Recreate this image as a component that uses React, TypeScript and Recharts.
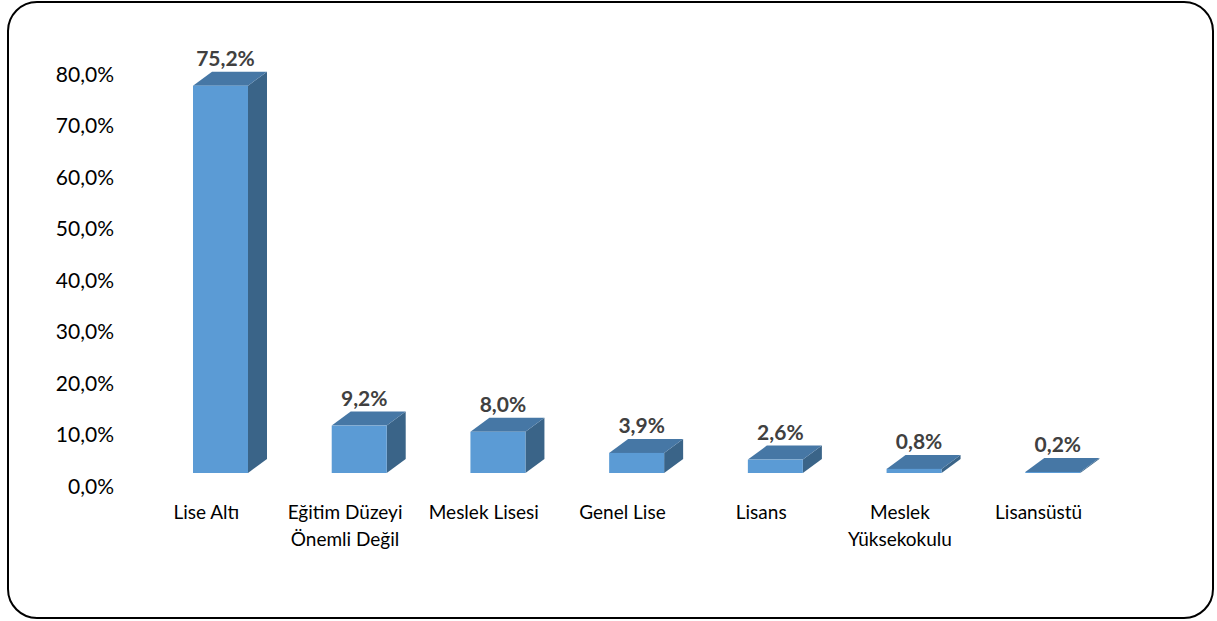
import { Bar, BarChart, LabelList, XAxis, YAxis } from 'recharts'

const CATEGORIES = [
  'Lise Altı',
  'Eğitim Düzeyi\nÖnemli Değil',
  'Meslek Lisesi',
  'Genel Lise',
  'Lisans',
  'Meslek\nYüksekokulu',
  'Lisansüstü',
]
const SHARES = [75.2, 9.2, 8.0, 3.9, 2.6, 0.8, 0.2]
const Y_TICKS = [0, 10, 20, 30, 40, 50, 60, 70, 80]

const DEPTH_X = 19
const DEPTH_Y = 14
const FONT = 'Lato, "Open Sans", sans-serif'

const data = CATEGORIES.map((name, i) => ({ name, value: SHARES[i] }))

const pct = (v: number) => v.toFixed(1).replace('.', ',') + '%'

function Box3D(props: any) {
  const { x, y, width, height } = props
  const bottom = y + height
  const right = x + width
  return (
    <g>
      <polygon
        points={`${right},${y} ${right + DEPTH_X},${y - DEPTH_Y} ${right + DEPTH_X},${bottom - DEPTH_Y} ${right},${bottom}`}
        fill="#3A6488"
      />
      <polygon
        points={`${x},${y} ${x + DEPTH_X},${y - DEPTH_Y} ${right + DEPTH_X},${y - DEPTH_Y} ${right},${y}`}
        fill="#4677A5"
      />
      <rect x={x} y={y} width={width} height={Math.max(height, 0)} fill="#5B9BD5" />
    </g>
  )
}

function ValueLabel(props: any) {
  const { x, y, width, value } = props
  return (
    <text
      x={x + width / 2 + 5}
      y={y - DEPTH_Y - 6}
      textAnchor="middle"
      fill="#404040"
      fontFamily={FONT}
      fontWeight="bold"
      fontSize={21}
    >
      {pct(value)}
    </text>
  )
}

function YTick({ y, payload }: any) {
  return (
    <text
      x={114}
      y={y + 12}
      textAnchor="end"
      dominantBaseline="central"
      fill="#000"
      fontFamily={FONT}
      fontSize={21}
    >
      {pct(payload.value)}
    </text>
  )
}

function XTick({ x, y, payload }: any) {
  const lines = String(payload.value).split('\n')
  return (
    <text
      x={x - 14}
      y={y}
      textAnchor="middle"
      fill="#000"
      fontFamily={FONT}
      fontSize={19}
    >
      {lines.map((line, i) => (
        <tspan key={i} x={x - 14} dy={i === 0 ? 38 : 27}>
          {line}
        </tspan>
      ))}
    </text>
  )
}

export default function App() {
  return (
    <div
      style={{
        position: 'fixed',
        left: 0,
        top: 0,
        width: 1217,
        height: 621,
        background: '#fff',
      }}
    >
      <div
        style={{
          position: 'absolute',
          left: 7,
          top: 1,
          width: 1203,
          height: 614,
          border: '2px solid #000',
          borderRadius: 30,
        }}
      />
      <div style={{ position: 'absolute', left: 0, top: 0 }}>
        <BarChart
          width={1217}
          height={621}
          data={data}
          margin={{ top: 61, right: 95, bottom: 147, left: 0 }}
        >
          <XAxis
            dataKey="name"
            axisLine={false}
            tickLine={false}
            interval={0}
            height={1}
            tick={<XTick />}
          />
          <YAxis
            domain={[0, 80]}
            ticks={Y_TICKS}
            axisLine={false}
            tickLine={false}
            width={151}
            tick={<YTick />}
          />
          <Bar dataKey="value" barSize={55} shape={<Box3D />} isAnimationActive={false}>
            <LabelList dataKey="value" content={<ValueLabel />} />
          </Bar>
        </BarChart>
      </div>
    </div>
  )
}
